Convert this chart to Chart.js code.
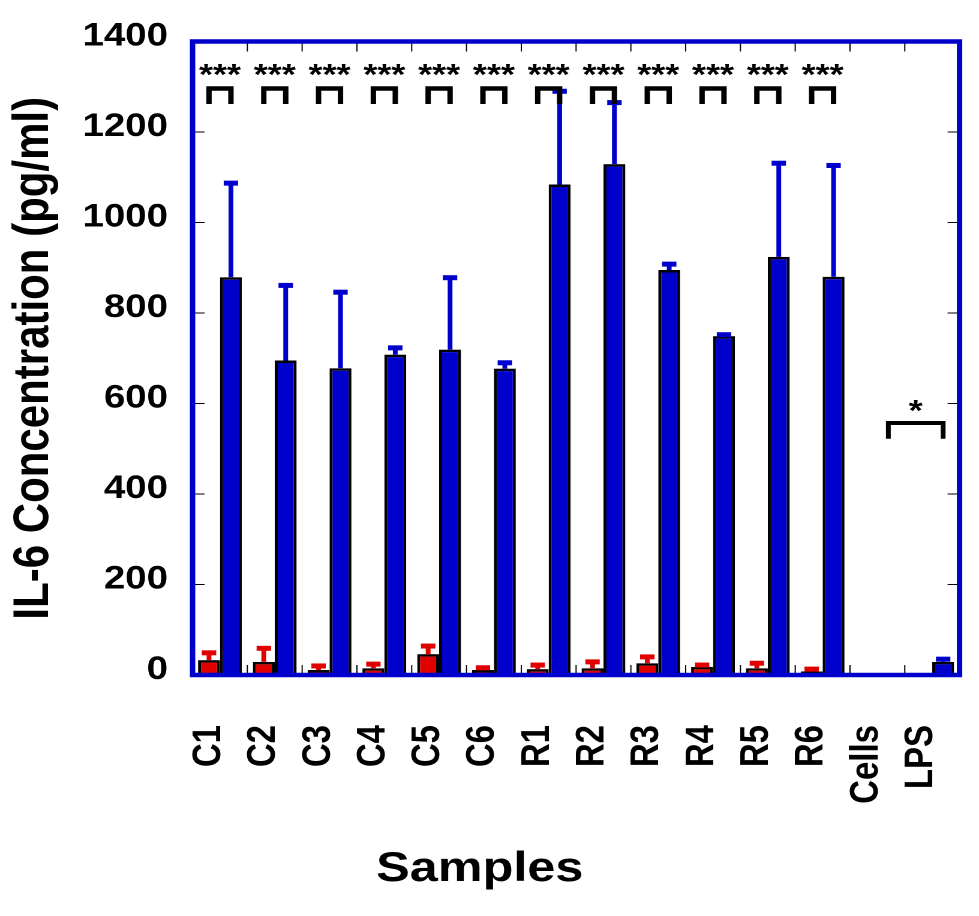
<!DOCTYPE html>
<html>
<head>
<meta charset="utf-8">
<script src="https://cdn.jsdelivr.net/npm/chart.js@4.4.1/dist/chart.umd.min.js"></script>
<style>
    html, body { margin: 0; padding: 0; background: #fff; overflow: hidden; }
    /* the original figure is stretched sideways, so the whole chart is too */
    #wrap { width: 816px; height: 916px; transform: scaleX(1.19975); transform-origin: 0 0; }
</style>
</head>
<body>
<div id="wrap"><canvas id="myChart"></canvas></div>
<script>
const samples = ['C1', 'C2', 'C3', 'C4', 'C5', 'C6', 'R1', 'R2', 'R3', 'R4', 'R5', 'R6', 'Cells', 'LPS'];

const redMeans = [33, 29, 11, 15, 46, 11, 13, 15, 26, 18, 15, 8, 0, 0];
const redErr   = [16, 30, 9, 9, 18, 5, 9, 14, 14, 4, 11, 5, 0, 0];

const blueMeans = [879, 695, 678, 708, 719, 677, 1084, 1129, 895, 749, 924, 880, 3, 29];
const blueErr   = [208, 166, 168, 15, 159, 13, 206, 136, 13, 3, 207, 246, 0, 6];

// significance red vs blue within each sample
const pairSig = ['***', '***', '***', '***', '***', '***', '***', '***', '***', '***', '***', '***', '', ''];
// significance Cells vs LPS (blue bars)
const cellsLpsSig = '*';

const yTickValues = [0, 200, 400, 600, 800, 1000, 1200, 1400];

const FONT = "'Liberation Sans', Arial, Helvetica, sans-serif";
const BLUE = '#0000cc';
const RED = '#e00000';

function line(ctx, x1, y1, x2, y2) {
    ctx.beginPath();
    ctx.moveTo(x1, y1);
    ctx.lineTo(x2, y2);
    ctx.stroke();
}

const extras = {
    id: 'extras',
    afterDatasetsDraw(chart) {
        const ctx = chart.ctx;
        const x = chart.scales.x;
        const y = chart.scales.y;
        const area = chart.chartArea;
        ctx.save();

        // error bars, upper half only
        [[0, redErr, RED], [1, blueErr, BLUE]].forEach(([di, errs, color]) => {
            const meta = chart.getDatasetMeta(di);
            const vals = chart.data.datasets[di].data;
            ctx.fillStyle = color;
            meta.data.forEach((bar, i) => {
                if (!errs[i]) return;
                const top = y.getPixelForValue(vals[i] + errs[i]);
                ctx.fillRect(bar.x - 2, top, 4, bar.y - top);
                ctx.fillRect(bar.x - 6, top - 2.5, 12, 5);
            });
        });

        // blue frame
        ctx.strokeStyle = BLUE;
        ctx.lineWidth = 4.5;
        ctx.strokeRect(area.left, area.top, area.right - area.left, area.bottom - area.top);

        // small inner tick marks
        ctx.strokeStyle = '#000';
        ctx.lineWidth = 1;
        y.ticks.forEach(t => {
            if (t.value <= 0 || t.value >= 1400) return;
            const py = y.getPixelForValue(t.value);
            line(ctx, area.left + 2, py, area.left + 10, py);
            line(ctx, area.right - 10, py, area.right - 2, py);
        });
        for (let i = 1; i < samples.length; i++) {
            const px = (x.getPixelForValue(i - 1) + x.getPixelForValue(i)) / 2;
            line(ctx, px, area.top + 2, px, area.top + 10);
            line(ctx, px, area.bottom - 10, px, area.bottom - 2);
        }

        // brackets + stars
        const redMeta = chart.getDatasetMeta(0);
        const blueMeta = chart.getDatasetMeta(1);
        ctx.strokeStyle = '#000';
        ctx.fillStyle = '#000';
        ctx.lineJoin = 'miter';
        ctx.font = 'bold 30px ' + FONT;
        ctx.textAlign = 'center';
        ctx.textBaseline = 'alphabetic';
        pairSig.forEach((s, i) => {
            if (!s) return;
            const x1 = redMeta.data[i].x, x2 = blueMeta.data[i].x;
            const yTop = y.getPixelForValue(1296), yLeg = y.getPixelForValue(1262);
            ctx.lineWidth = 4.5;
            ctx.beginPath();
            ctx.moveTo(x1, yLeg);
            ctx.lineTo(x1, yTop);
            ctx.lineTo(x2, yTop);
            ctx.lineTo(x2, yLeg);
            ctx.stroke();
            ctx.fillText(s, (x1 + x2) / 2, y.getPixelForValue(1305));
        });

        const c1 = blueMeta.data[12].x, c2 = blueMeta.data[13].x;
        const cTop = y.getPixelForValue(557), cLeg = y.getPixelForValue(522);
        ctx.lineWidth = 4;
        ctx.beginPath();
        ctx.moveTo(c1, cLeg);
        ctx.lineTo(c1, cTop);
        ctx.lineTo(c2, cTop);
        ctx.lineTo(c2, cLeg);
        ctx.stroke();
        ctx.fillText(cellsLpsSig, (c1 + c2) / 2, y.getPixelForValue(562));

        ctx.restore();
    }
};

const data = {
    labels: samples,
    datasets: [
        {
            data: redMeans,
            backgroundColor: RED,
            borderColor: '#000',
            borderWidth: 2.5,
            categoryPercentage: 0.8,
            barPercentage: 1.0
        },
        {
            data: blueMeans,
            backgroundColor: BLUE,
            borderColor: '#000',
            borderWidth: 2.5,
            categoryPercentage: 0.8,
            barPercentage: 1.0
        }
    ]
};

const config = {
    type: 'bar',
    data: data,
    options: {
        responsive: true,
        maintainAspectRatio: false,
        devicePixelRatio: 2,
        animation: false,
        layout: {
            padding: { left: 0, right: 16.2, top: 41.5, bottom: 0 }
        },
        scales: {
            x: {
                grid: { display: false, drawTicks: false },
                border: { display: false },
                ticks: {
                    autoSkip: false,
                    minRotation: 90,
                    maxRotation: 90,
                    padding: 50,
                    labelOffset: -9,
                    color: '#000',
                    font: { family: FONT, size: 33, weight: 'bold' }
                },
                afterFit(scale) {
                    scale.height = 169.3;
                    // the rotated labels fit inside their columns, no side room needed
                    scale.paddingLeft = 0;
                    scale.paddingRight = 0;
                }
            },
            y: {
                min: 0,
                max: 1400,
                grid: { display: false, drawTicks: false },
                border: { display: false },
                afterBuildTicks(scale) {
                    scale.ticks = yTickValues.map(v => ({ value: v }));
                },
                ticks: {
                    padding: 20.5,
                    labelOffset: -5,
                    color: '#000',
                    font: { family: FONT, size: 32, weight: 'bold' },
                    callback: v => String(v)
                },
                title: {
                    display: true,
                    text: 'IL-6 Concentration (pg/ml)',
                    color: '#000',
                    font: { family: FONT, size: 42, weight: 'bold' },
                    padding: { top: 3, bottom: 0 }
                },
                afterFit(scale) { scale.width = 160.5; }
            }
        },
        plugins: {
            legend: { display: false },
            tooltip: { enabled: false },
            // x axis title, centred on the whole figure like the original
            title: {
                display: true,
                position: 'bottom',
                text: 'Samples',
                color: '#000',
                font: { family: FONT, size: 42, weight: 'bold', lineHeight: 1.2 },
                padding: { top: 0, bottom: 21.3 }
            }
        }
    },
    plugins: [extras]
};

const myChart = new Chart(
    document.getElementById('myChart'),
    config
);
</script>
</body>
</html>
